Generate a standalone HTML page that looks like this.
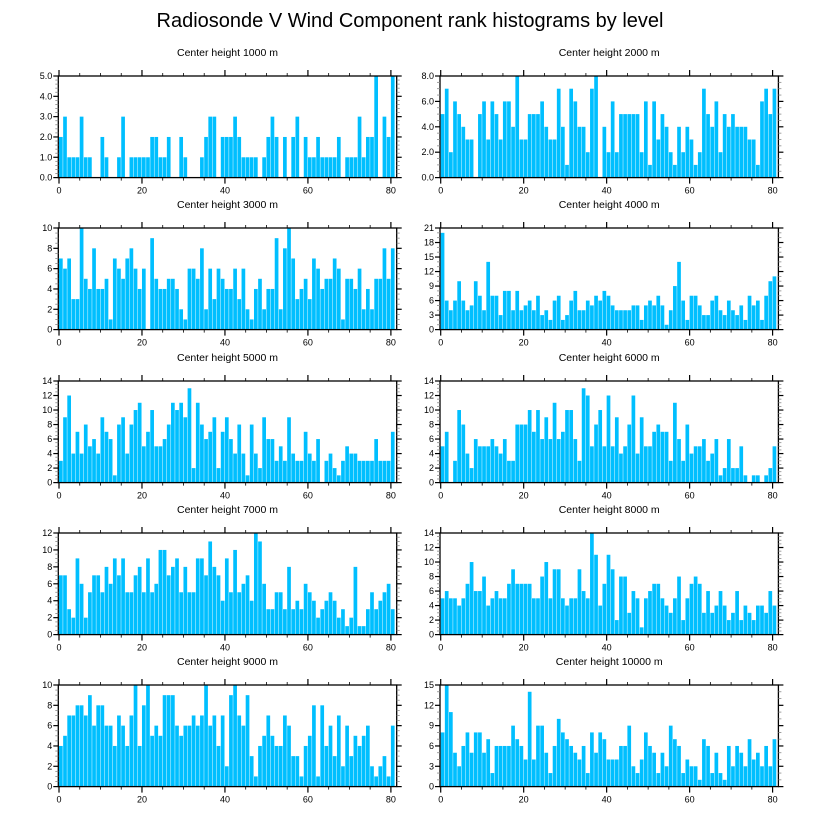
<!DOCTYPE html>
<html><head><meta charset="utf-8"><style>
body{margin:0;background:#fff;}
svg{display:block;font-family:"Liberation Sans",sans-serif;}
</style></head><body>
<svg id="chart" width="818" height="824" viewBox="0 0 818 824" xmlns="http://www.w3.org/2000/svg">
<text x="410" y="27" text-anchor="middle" font-size="20">Radiosonde V Wind Component rank histograms by level</text>
</svg>
<script>
const levels = [1000, 2000, 3000, 4000, 5000, 6000, 7000, 8000, 9000, 10000];
const h1000 = [2,3,1,1,1,3,1,1,0,0,2,1,0,0,1,3,0,1,1,1,1,1,2,2,1,1,2,0,0,2,1,0,0,0,1,2,3,3,0,2,2,2,3,2,1,1,1,1,0,1,2,3,2,0,2,0,2,3,0,2,1,1,2,1,1,1,1,2,0,1,1,1,3,1,2,2,5,0,3,2,5];
const h2000 = [5,7,2,6,5,4,3,3,0,5,6,3,6,5,3,6,6,4,8,3,3,5,5,5,6,4,3,3,7,4,1,7,6,4,4,2,7,8,0,4,2,6,2,5,5,5,5,5,2,6,1,6,3,5,4,2,1,4,2,4,3,1,2,7,5,4,6,2,5,4,5,4,4,4,3,3,1,6,7,5,7];
const h3000 = [7,6,7,3,3,10,5,4,8,4,4,5,1,7,6,5,7,8,6,4,6,0,9,5,4,4,5,5,4,2,1,6,6,5,8,2,6,3,6,5,4,4,6,3,6,2,1,4,5,2,4,4,9,2,8,10,7,3,4,5,3,7,6,4,5,5,7,6,1,5,5,4,6,2,4,2,5,5,8,5,8];
const h4000 = [20,6,4,6,10,6,4,5,10,7,4,14,7,7,3,8,8,4,8,4,5,6,4,7,3,4,2,6,7,2,3,6,8,4,4,6,5,7,6,8,7,5,4,4,4,4,5,5,2,5,6,5,7,5,1,4,9,14,6,2,7,7,5,3,3,6,7,4,3,6,4,3,5,2,7,5,6,2,7,10,11];
const h5000 = [3,9,12,4,7,4,8,5,6,4,9,7,6,1,8,9,4,8,10,11,5,7,10,5,5,6,8,11,10,11,9,13,2,11,8,6,7,9,2,7,9,6,4,8,4,1,8,4,2,9,6,6,3,5,3,9,4,3,3,7,4,3,6,0,3,4,2,1,3,5,4,4,3,3,3,3,6,3,3,3,7];
const h6000 = [5,7,0,3,10,8,4,2,6,5,5,5,6,5,4,6,3,3,8,8,8,10,7,10,6,9,6,11,6,7,10,10,6,3,13,12,5,8,10,5,12,5,9,4,5,8,12,4,9,5,5,7,8,7,7,3,11,6,3,8,4,5,5,6,3,4,6,1,2,6,2,2,5,1,0,1,1,0,1,2,5];
const h7000 = [7,7,3,2,9,6,2,5,7,7,5,8,6,9,7,9,5,5,7,8,5,9,5,6,10,10,7,8,9,5,8,5,5,9,9,7,11,8,7,4,9,5,10,5,6,7,4,12,11,6,3,3,5,5,3,8,3,4,3,6,5,4,2,3,4,5,4,2,3,1,2,8,1,1,3,5,3,4,5,6,3];
const h8000 = [5,6,5,5,4,5,7,10,6,6,8,4,5,6,5,5,7,9,7,7,7,7,5,5,8,10,5,9,9,5,4,5,5,9,6,5,14,11,4,7,11,9,2,8,8,3,6,5,1,5,6,7,7,5,4,3,5,8,2,5,7,8,7,3,6,3,4,6,4,2,3,6,2,4,3,2,4,4,3,6,4];
const h9000 = [4,5,7,7,8,8,7,9,6,8,8,6,6,4,7,6,4,7,10,4,8,10,5,6,5,9,9,9,6,5,6,6,7,6,7,10,6,7,4,7,2,9,10,7,6,9,3,1,4,5,7,5,4,4,7,6,3,3,1,4,5,8,1,8,4,6,3,7,2,6,3,5,4,5,6,2,1,2,3,1,6];
const h10000 = [8,15,11,5,3,6,8,5,8,8,5,7,2,6,6,6,6,9,7,6,4,14,4,9,9,5,2,6,10,8,7,6,5,4,6,2,8,5,8,7,4,4,4,6,6,9,3,2,4,8,6,5,2,5,3,9,7,6,2,4,3,3,1,7,6,2,5,2,1,6,3,6,5,3,7,4,5,3,6,3,7];
const yMaxes = [5, 8, 10, 21, 14, 14, 12, 14, 10, 15];
const yTickSteps = [1, 2, 2, 3, 2, 2, 2, 2, 2, 3];
const xTickValues = [0, 20, 40, 60, 80];

const series = [h1000,h2000,h3000,h4000,h5000,h6000,h7000,h8000,h9000,h10000];
const NS = "http://www.w3.org/2000/svg";
const svg = document.getElementById('chart');
function mk(tag, attrs, parent){
  const e = document.createElementNS(NS, tag);
  for (const k in attrs) e.setAttribute(k, attrs[k]);
  (parent||svg).appendChild(e);
  return e;
}
const tops = [76, 228, 381, 533, 685];
const lefts = [58.3, 440];
const W = 338.4, H = 101.6;
const XMIN = -0.17, XMAX = 81.4;

series.forEach((vals, p) => {
  const col = p % 2, row = Math.floor(p / 2);
  const L = lefts[col], T = tops[row];
  const g = mk('g', {});
  
  
  const xs = v => L + (v - XMIN) / (XMAX - XMIN) * W;
  const ys = v => T + H - v / yMaxes[p] * H;
  const ttl = mk('text', {x: L + W/2, y: T - 20, 'text-anchor':'middle', 'font-size':'10.5'}, g);
  
  
  ttl.textContent = 'Center height ' + levels[p] + ' m';
  vals.forEach((v, i) => {
    if (v <= 0) return;
    const x0 = xs(i), x1 = xs(i + 1);
    const r = mk('rect', {x: x0, y: ys(v), width: (x1 - x0) - 0.45, height: ys(0) - ys(v), fill:'#00bfff'}, g);
    
    
  });
  const fr = mk('rect', {x: L, y: T, width: W, height: H, fill:'none', stroke:'#000', 'stroke-width':'1.3'}, g);
  
  
  for (let v = 0; v <= 80; v += 5) {
    const x = xs(v), major = v % 20 === 0, len = major ? 6 : 3;
    mk('line', {x1:x, x2:x, y1:T, y2:T - len, stroke:'#000', 'stroke-width': major?1.2:0.8}, g);
    mk('line', {x1:x, x2:x, y1:T + H, y2:T + H + len, stroke:'#000', 'stroke-width': major?1.2:0.8}, g);
  }
  xTickValues.forEach(v => {
    const t = mk('text', {x: xs(v), y: T + H + 16, 'text-anchor':'middle', 'font-size':'9'}, g);
    
    
    t.textContent = v;
  });
  const step = yTickSteps[p], sub = step === 3 ? 3 : (step === 1 ? 5 : 4);
  for (let k = 0; k <= yMaxes[p] * sub / step + 1e-6; k++) {
    const v = k * step / sub, y = ys(v), major = k % sub === 0, len = major ? 5 : 3;
    mk('line', {x1:L, x2:L - len, y1:y, y2:y, stroke: major?'#000':'#888', 'stroke-width': major?1.2:0.8}, g);
    mk('line', {x1:L + W, x2:L + W + len, y1:y, y2:y, stroke: major?'#000':'#888', 'stroke-width': major?1.2:0.8}, g);
  }
  for (let v = 0; v <= yMaxes[p] + 1e-6; v += step) {
    const t = mk('text', {x: L - 6, y: ys(v) + 3, 'text-anchor':'end', 'font-size':'9'}, g);
    
    
    t.textContent = p < 2 ? v.toFixed(1) : String(v);
  }
});
</script>
</body></html>
